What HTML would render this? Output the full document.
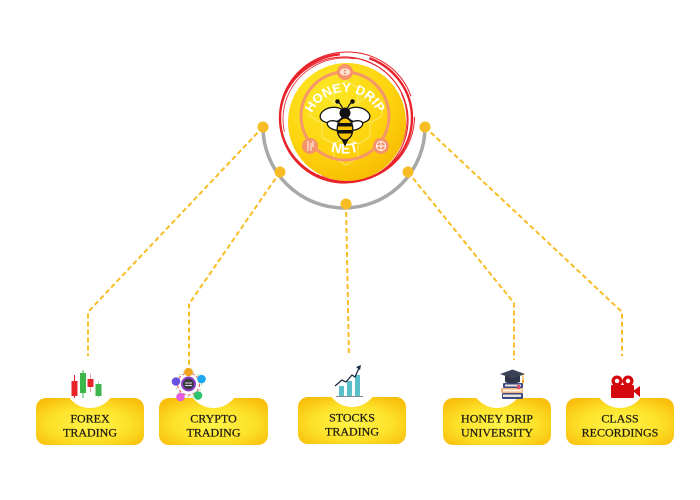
<!DOCTYPE html>
<html><head><meta charset="utf-8"><style>
html,body{margin:0;padding:0;background:#fff;}
svg{display:block;}
.lbl{font-family:"Liberation Serif",serif;font-size:12px;fill:#1e1a10;stroke:#1e1a10;stroke-width:0.25;text-anchor:middle;}
</style></head><body>
<svg width="700" height="500" viewBox="0 0 700 500" xmlns="http://www.w3.org/2000/svg">
<defs>
<radialGradient id="bx" cx="50%" cy="55%" r="65%">
<stop offset="0" stop-color="#fff34a"/>
<stop offset="0.55" stop-color="#fde22a"/>
<stop offset="1" stop-color="#f8be0a"/>
</radialGradient>
<radialGradient id="disc" cx="35%" cy="25%" r="85%">
<stop offset="0" stop-color="#fbe826"/>
<stop offset="0.6" stop-color="#fdd40e"/>
<stop offset="1" stop-color="#f8b700"/>
</radialGradient>
<path id="topArc" d="M 309 128 A 36 36 0 0 1 381 128"/>
<path id="botArc" d="M 322 147 Q 345 160 368 147"/>
</defs>

<!-- connectors -->
<g stroke="#f8bd24" stroke-width="2" fill="none" stroke-dasharray="5 3">
<polyline points="263,127 88,312 88,360"/>
<polyline points="280,172 189,304 189,366"/>
<polyline points="346,204 349,358"/>
<polyline points="408,172 514,303 514,360"/>
<polyline points="425,127 622,312 622,360"/>
</g>

<!-- gray arc -->
<path d="M 263 127 A 81 81 0 0 0 425 127" fill="none" stroke="#a8a8a8" stroke-width="3.5"/>

<!-- red scribble ring -->
<g fill="none" stroke="#e8232b">
<ellipse cx="346" cy="118" rx="66" ry="64" stroke-width="2.4" stroke-dasharray="300 30 80 20"/>
<ellipse cx="344" cy="120" rx="64" ry="63" stroke-width="1.2" transform="rotate(8 344 120)"/>
<ellipse cx="347" cy="117" rx="67.5" ry="65" stroke-width="1" stroke-dasharray="200 15 180 30"/>
<ellipse cx="345" cy="119" rx="62" ry="61" stroke-width="0.8" stroke-dasharray="120 60"/>
</g>

<!-- yellow disc -->
<circle cx="347" cy="122" r="59" fill="url(#disc)"/>
<!-- hex pattern -->
<g fill="none" stroke="#fff6a8" stroke-width="0.8" opacity="0.7">
<polygon points="334,88 346,81 358,88 358,102 346,109 334,102"/>
<polygon points="310,102 322,95 334,102 334,116 322,123 310,116"/>
<polygon points="358,102 370,95 382,102 382,116 370,123 358,116"/>
<polygon points="322,123 334,116 346,123 346,137 334,144 322,137"/>
<polygon points="346,123 358,116 370,123 370,137 358,144 346,137"/>
<polygon points="334,144 346,137 358,144 358,158 346,165 334,158"/>
</g>
<!-- salmon ring -->
<circle cx="345" cy="116" r="44" fill="none" stroke="#f5976a" stroke-width="3"/>
<circle cx="345" cy="72" r="8" fill="#f5936a"/>
<circle cx="310" cy="146" r="8" fill="#f5936a"/>
<circle cx="381" cy="146" r="8" fill="#f5936a"/>
<g stroke="#fff" fill="none" stroke-width="1">
<ellipse cx="345" cy="72" rx="4.5" ry="3"/>
<path d="M341 72 h8 M343 69.5 v5 M347 69.5 v5"/>
<path d="M308 141 v10 M311 143 v8 M313 141 v6"/>
<circle cx="381" cy="146" r="4.5"/>
<path d="M376.5 146 h9 M381 141.5 v9"/>
</g>

<!-- curved text -->
<text font-family="Liberation Sans,sans-serif" font-weight="bold" font-size="13" fill="#fff" letter-spacing="0.2"><textPath href="#topArc" startOffset="50%" text-anchor="middle">HONEY DRIP</textPath></text>
<text font-family="Liberation Sans,sans-serif" font-weight="bold" font-size="14" fill="#fff" letter-spacing="0.5"><textPath href="#botArc" startOffset="50%" text-anchor="middle">NET</textPath></text>

<!-- bee -->
<g stroke="#111" stroke-width="1.3">
<path d="M342.5 108 Q340 103 337.5 101.5" fill="none"/>
<path d="M347.5 108 Q350 103 352.5 101.5" fill="none"/>
<circle cx="337.5" cy="101.5" r="1.6" fill="#111"/>
<circle cx="352.5" cy="101.5" r="1.6" fill="#111"/>
<ellipse cx="332" cy="115" rx="12" ry="7.5" fill="#fff" transform="rotate(-12 332 115)"/>
<ellipse cx="358" cy="115" rx="12" ry="7.5" fill="#fff" transform="rotate(12 358 115)"/>
<ellipse cx="335" cy="125.5" rx="8" ry="4.3" fill="#fff" transform="rotate(18 335 125.5)"/>
<ellipse cx="355" cy="125.5" rx="8" ry="4.3" fill="#fff" transform="rotate(-18 355 125.5)"/>
<path d="M341.5 138 L345 145 L348.5 138 Z" fill="#111"/>
<ellipse cx="345" cy="129" rx="7.8" ry="11" fill="#f8c400"/>
</g>
<g fill="#111">
<path d="M337.5 123 h15 v3.5 h-15 Z"/>
<path d="M338 130 h14 v3.5 h-14 Z"/>
<circle cx="345" cy="113" r="5.5"/>
</g>

<!-- dots -->
<g fill="#f8bd24">
<circle cx="263" cy="127" r="5.5"/>
<circle cx="280" cy="172" r="5.5"/>
<circle cx="346" cy="204" r="5.5"/>
<circle cx="408" cy="172" r="5.5"/>
<circle cx="425" cy="127" r="5.5"/>
</g>

<!-- boxes -->
<g fill="url(#bx)">
<rect x="36" y="398" width="108" height="47" rx="10"/>
<rect x="159" y="398" width="109" height="47" rx="10"/>
<rect x="298" y="397" width="108" height="47" rx="10"/>
<rect x="443" y="398" width="108" height="47" rx="10"/>
<rect x="566" y="398" width="108" height="47" rx="10"/>
</g>
<g fill="#fff">
<circle cx="90" cy="382" r="26"/>
<circle cx="213.5" cy="382" r="26"/>
<circle cx="352" cy="381" r="26"/>
<circle cx="497" cy="382" r="26"/>
<circle cx="620" cy="382" r="26"/>
</g>

<!-- labels -->
<text class="lbl" x="90" y="422.5">FOREX</text>
<text class="lbl" x="90" y="436.5">TRADING</text>
<text class="lbl" x="213.5" y="422.5">CRYPTO</text>
<text class="lbl" x="213.5" y="436.5">TRADING</text>
<text class="lbl" x="352" y="421.5">STOCKS</text>
<text class="lbl" x="352" y="435.5">TRADING</text>
<text class="lbl" x="497" y="422.5">HONEY DRIP</text>
<text class="lbl" x="497" y="436.5">UNIVERSITY</text>
<text class="lbl" x="620" y="422.5">CLASS</text>
<text class="lbl" x="620" y="436.5">RECORDINGS</text>

<!-- forex icon -->
<g stroke-width="1">
<line x1="74.5" y1="375" x2="74.5" y2="398" stroke="#e8232b"/>
<rect x="71.5" y="381" width="6" height="15" fill="#e8232b"/>
<line x1="83" y1="370" x2="83" y2="398" stroke="#3cb54a"/>
<rect x="80" y="373" width="6" height="20" fill="#3cb54a"/>
<line x1="90.5" y1="374" x2="90.5" y2="392" stroke="#f3a0a4"/>
<rect x="87.5" y="379" width="6" height="8" fill="#e8232b"/>
<line x1="98.5" y1="381" x2="98.5" y2="398" stroke="#a8dcae"/>
<rect x="95.5" y="384" width="6" height="12" fill="#3cb54a"/>
</g>

<!-- crypto icon -->
<circle cx="188.5" cy="384" r="11" fill="none" stroke="#e86a6a" stroke-width="1.2" stroke-dasharray="3 2"/>
<circle cx="188.5" cy="384" r="13" fill="none" stroke="#8fdc7a" stroke-width="0.8" stroke-dasharray="2 3"/>
<circle cx="188.5" cy="372" r="4.3" fill="#f3a51e"/>
<circle cx="201.5" cy="379" r="4.3" fill="#1fa8f0"/>
<circle cx="198" cy="395.5" r="4.3" fill="#2ec46f"/>
<circle cx="180.5" cy="397" r="4.3" fill="#e35ce0"/>
<circle cx="176" cy="381.5" r="4.3" fill="#6a52e0"/>
<circle cx="188.5" cy="384" r="7.5" fill="#8c3fc8"/>
<circle cx="188.5" cy="384" r="5.5" fill="#3a3a44"/>
<path d="M185 383 h7 M185 385.5 h7" stroke="#ddd" stroke-width="0.9"/>

<!-- stocks icon -->
<rect x="339" y="386" width="5" height="10" fill="#5bbfca"/>
<rect x="347" y="381" width="5" height="15" fill="#5bbfca"/>
<rect x="355" y="375" width="5" height="21" fill="#5bbfca"/>
<line x1="336" y1="396.5" x2="363" y2="396.5" stroke="#888" stroke-width="1"/>
<polyline points="335,386 342,380 346,382 352,375 355,377 359,368" fill="none" stroke="#1d2b44" stroke-width="1.3"/>
<path d="M356 367 L361 365 L360 370 Z" fill="#1d2b44"/>

<!-- university icon -->
<rect x="502" y="393" width="21" height="6" rx="1" fill="#3c4a86"/>
<rect x="503" y="394.5" width="18" height="2.5" fill="#e9e3dc"/>
<rect x="501" y="388" width="22" height="5" rx="1" fill="#f0b47c"/>
<rect x="503" y="389.5" width="19" height="2" fill="#fff3e5"/>
<rect x="503" y="383" width="20" height="5" rx="1" fill="#3c4a86"/>
<rect x="505" y="384.5" width="16" height="2" fill="#e9e3dc"/>
<rect x="517" y="385" width="3" height="4" fill="#e05070"/>
<path d="M505 376 h15 v6 q-7.5 3 -15 0 Z" fill="#2f3447"/>
<path d="M500 374 L512.5 369.5 L525 374 L512.5 378.5 Z" fill="#3c4256"/>
<line x1="523" y1="374.5" x2="523" y2="381" stroke="#f3a51e" stroke-width="1"/>
<rect x="522" y="380" width="2" height="3" fill="#f3a51e"/>

<!-- camera icon -->
<circle cx="617" cy="381" r="5.5" fill="#d5080f"/>
<circle cx="628" cy="381" r="5.5" fill="#d5080f"/>
<circle cx="617" cy="381" r="2.2" fill="#fff"/>
<circle cx="628" cy="381" r="2.2" fill="#fff"/>
<rect x="611" y="385" width="23" height="13" rx="1" fill="#d5080f"/>
<path d="M633 391 L640 386 L640 397 Z" fill="#d5080f"/>
</svg>
</body></html>
